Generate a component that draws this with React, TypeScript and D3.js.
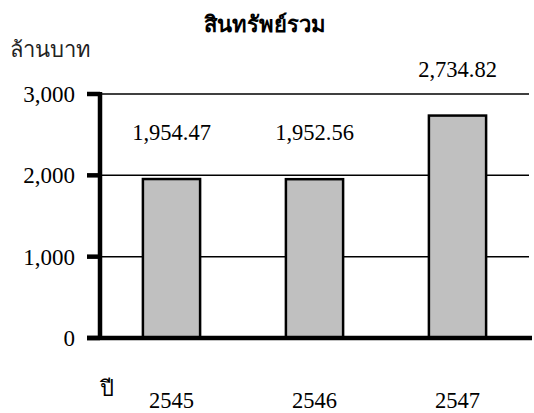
import React from "react";
import * as d3 from "d3";

const years = ["2545", "2546", "2547"];
const totalAssets = [1954.47, 1952.56, 2734.82];
const yTicks = [0, 1000, 2000, 3000];
const title = "สินทรัพย์รวม";
const yUnit = "ล้านบาท";
const xUnit = "ปี";

const W = 534;
const H = 413;
const left = 100;
const right = 529;
const top = 94;
const bottom = 338;
const font = "Liberation Serif, serif";

export default function App() {
  const x = d3.scaleBand<string>().domain(years).range([left, right]).paddingInner(0.6).paddingOuter(0.3);
  const y = d3.scaleLinear().domain([0, 3000]).range([bottom, top]);
  const fmt = d3.format(",.2f");
  const tickFmt = d3.format(",");
  return (
    <svg width={W} height={H} style={{ position: "absolute", left: 0, top: 0, background: "#fff" }} fontFamily={font}>
      <rect x={0} y={0} width={W} height={H} fill="#fff" />
      <text x={265} y={32} textAnchor="middle" fontSize={22} fontWeight="bold">{title}</text>
      <text x={10} y={57} fontSize={22} fill="#222">{yUnit}</text>
      {yTicks.filter((t) => t > 0).map((t) => (
        <line key={"g" + t} x1={left} x2={right} y1={y(t)} y2={y(t)} stroke="#000" strokeWidth={1.5} />
      ))}
      {years.map((yr, i) => (
        <rect key={yr} x={x(yr)} y={y(totalAssets[i])} width={x.bandwidth()} height={y(0) - y(totalAssets[i])}
          fill="#c0c0c0" stroke="#000" strokeWidth={2.5} />
      ))}
      {years.map((yr, i) => (
        <text key={"l" + yr} x={(x(yr) as number) + x.bandwidth() / 2} y={y(totalAssets[i]) - 39}
          textAnchor="middle" fontSize={22.5}>{fmt(totalAssets[i])}</text>
      ))}
      <line x1={left} x2={left} y1={top - 2} y2={bottom + 2} stroke="#000" strokeWidth={4.5} />
      <line x1={87} x2={532} y1={bottom} y2={bottom} stroke="#000" strokeWidth={4.5} />
      {yTicks.map((t) => (
        <g key={"t" + t}>
          <line x1={87} x2={left} y1={y(t)} y2={y(t)} stroke="#000" strokeWidth={4.5} />
          <text x={75} y={y(t) + 8} textAnchor="end" fontSize={23}>{tickFmt(t)}</text>
        </g>
      ))}
      {years.map((yr) => (
        <text key={"x" + yr} x={(x(yr) as number) + x.bandwidth() / 2} y={408} textAnchor="middle" fontSize={22.5}>{yr}</text>
      ))}
      <text x={100} y={396} fontSize={22}>{xUnit}</text>
    </svg>
  );
}
